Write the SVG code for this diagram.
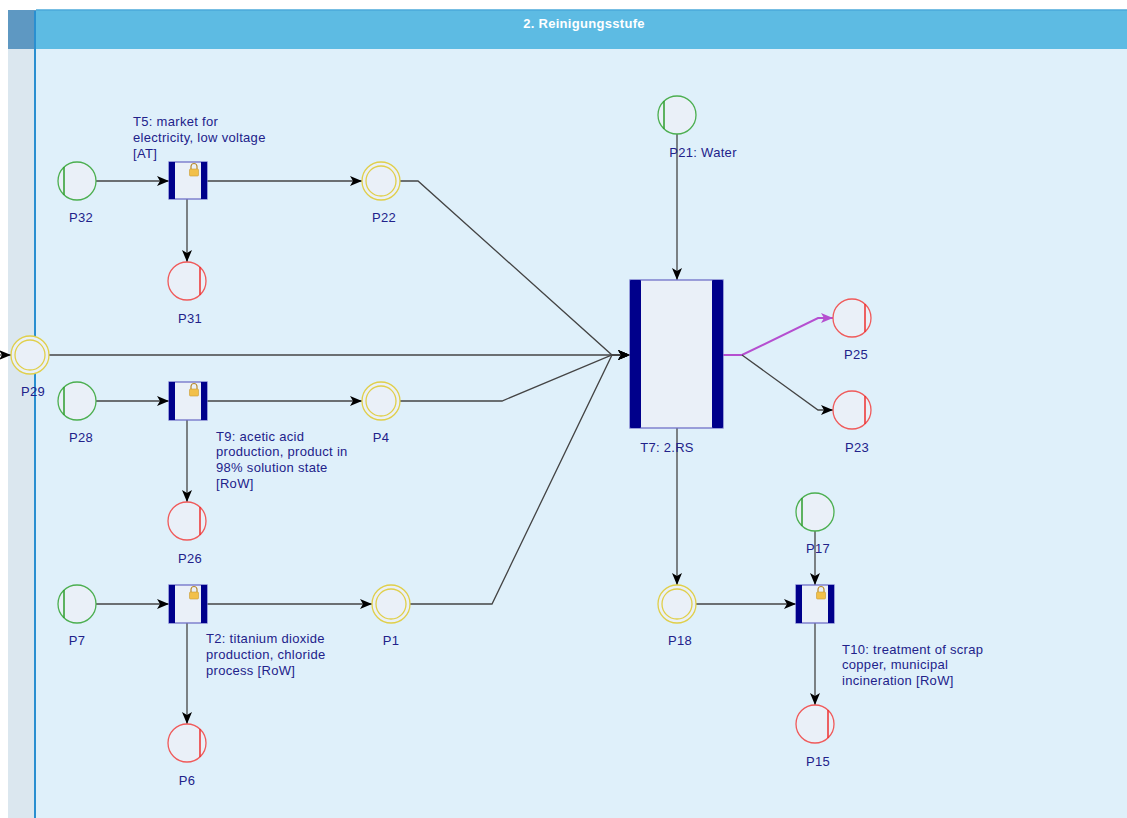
<svg xmlns="http://www.w3.org/2000/svg" width="1127" height="818" viewBox="0 0 1127 818">
  <defs>
    <marker id="arr" viewBox="0 0 12 10" refX="12" refY="5" markerWidth="12" markerHeight="10" markerUnits="userSpaceOnUse" orient="auto">
      <path d="M0,0 L12,5 L0,10 L3,5 Z" fill="#000"/>
    </marker>
    <marker id="arrP" viewBox="0 0 12 10" refX="12" refY="5" markerWidth="12" markerHeight="10" markerUnits="userSpaceOnUse" orient="auto">
      <path d="M0,0 L12,5 L0,10 L3,5 Z" fill="#b54fd0"/>
    </marker>
    <g id="lock">
      <path d="M-3,-1 v-2.5 a3,3 0 0 1 6,0 v2.5" fill="none" stroke="#b88a2a" stroke-width="1.2"/>
      <rect x="-4.5" y="-1" width="9" height="7" rx="1" fill="#f2c04a" stroke="#c99a30" stroke-width="0.6"/>
    </g>
  </defs>
  <style>
    .lbl { font-family: "Liberation Sans", Arial, sans-serif; font-size: 13px; letter-spacing: 0.3px; fill: #22228a; }
    .ttl { font-family: "Liberation Sans", Arial, sans-serif; font-size: 13px; letter-spacing: 0.3px; font-weight: bold; fill: #fff; }
    .pl { fill: #eaf0f8; stroke-width: 1.3; }
    .src { stroke: #4caf50; }
    .snk { stroke: #f05a5a; }
    .mid { stroke: #e0cf4a; }
    .bar-src { stroke: #2e9e2e; stroke-width: 1.5; }
    .bar-snk { stroke: #ee3030; stroke-width: 1.5; }
    .tr { fill: #eaf0f8; stroke: #7070c8; stroke-width: 1.3; }
    .tb { fill: #00008b; }
    .ed { fill: none; stroke: #444; stroke-width: 1.3; marker-end: url(#arr); }
    .edp { fill: none; stroke: #b54fd0; stroke-width: 2; marker-end: url(#arrP); }
  </style>

  <!-- lane background -->
  <rect x="0" y="0" width="1127" height="818" fill="#ffffff"/>
  <rect x="8" y="49" width="28" height="769" fill="#dbe7ef"/>
  <rect x="36" y="49" width="1091" height="769" fill="#dff0fa"/>
  <rect x="8" y="10" width="28" height="39" fill="#5e98c2"/>
  <rect x="36" y="10" width="1091" height="39" fill="#5dbbe3"/>
  <line x1="36" y1="10" x2="1127" y2="10" stroke="#4aa8da" stroke-width="1.5"/>
  <line x1="35" y1="11" x2="35" y2="818" stroke="#2a8fd0" stroke-width="2"/>
  <text class="ttl" x="584" y="28" text-anchor="middle">2. Reinigungsstufe</text>

  <!-- connectors -->
  <g id="connectors">
    <path class="ed" d="M96,181 H169"/>
    <path class="ed" d="M207,181 H362"/>
    <path class="ed" d="M187,198 V262"/>
    <path class="ed" d="M400,181 H418 L612,355 H630"/>
    <path class="ed" d="M49,355 H630"/>
    <path class="ed" d="M0,355 H11"/>
    <path class="ed" d="M96,401 H169"/>
    <path class="ed" d="M207,401 H362"/>
    <path class="ed" d="M187,420 V502"/>
    <path class="ed" d="M400,401 H502 L612,355 H630"/>
    <path class="ed" d="M96,604 H169"/>
    <path class="ed" d="M207,604 H372"/>
    <path class="ed" d="M187,623 V724"/>
    <path class="ed" d="M410,604 H492 L612,355 H630"/>
    <path class="ed" d="M677,134 V280"/>
    <path class="edp" d="M723,355 H742 L818,318 H833"/>
    <path class="ed" d="M742,355 L818,410 H833"/>
    <path class="ed" d="M677,428 V585"/>
    <path class="ed" d="M696,604 H796"/>
    <path class="ed" d="M815,531 V585"/>
    <path class="ed" d="M815,623 V705"/>
  </g>

  <!-- source places -->
  <g id="P32"><circle class="pl src" cx="77" cy="181" r="19"/><line class="bar-src" x1="64" y1="167" x2="64" y2="195"/><text class="lbl" x="81" y="222" text-anchor="middle">P32</text></g>
  <g id="P28"><circle class="pl src" cx="77" cy="401" r="19"/><line class="bar-src" x1="64" y1="387" x2="64" y2="415"/><text class="lbl" x="81" y="442" text-anchor="middle">P28</text></g>
  <g id="P7"><circle class="pl src" cx="77" cy="604" r="19"/><line class="bar-src" x1="64" y1="590" x2="64" y2="618"/><text class="lbl" x="77" y="645" text-anchor="middle">P7</text></g>
  <g id="P21"><circle class="pl src" cx="677" cy="115" r="19"/><line class="bar-src" x1="664" y1="101" x2="664" y2="129"/><text class="lbl" x="703" y="157" text-anchor="middle">P21: Water</text></g>
  <g id="P17"><circle class="pl src" cx="815" cy="512" r="19"/><line class="bar-src" x1="802" y1="498" x2="802" y2="526"/><text class="lbl" x="818" y="553" text-anchor="middle">P17</text></g>

  <!-- intermediate places -->
  <g id="P22"><circle class="pl mid" cx="381" cy="181" r="19"/><circle cx="381" cy="181" r="15" fill="none" stroke="#e0cf4a" stroke-width="1.3"/><text class="lbl" x="384" y="222" text-anchor="middle">P22</text></g>
  <g id="P29"><circle class="pl mid" cx="30" cy="355" r="19"/><circle cx="30" cy="355" r="15" fill="none" stroke="#e0cf4a" stroke-width="1.3"/><text class="lbl" x="33" y="396" text-anchor="middle">P29</text></g>
  <g id="P4"><circle class="pl mid" cx="381" cy="401" r="19"/><circle cx="381" cy="401" r="15" fill="none" stroke="#e0cf4a" stroke-width="1.3"/><text class="lbl" x="381" y="442" text-anchor="middle">P4</text></g>
  <g id="P1"><circle class="pl mid" cx="391" cy="604" r="19"/><circle cx="391" cy="604" r="15" fill="none" stroke="#e0cf4a" stroke-width="1.3"/><text class="lbl" x="391" y="645" text-anchor="middle">P1</text></g>
  <g id="P18"><circle class="pl mid" cx="677" cy="604" r="19"/><circle cx="677" cy="604" r="15" fill="none" stroke="#e0cf4a" stroke-width="1.3"/><text class="lbl" x="680" y="645" text-anchor="middle">P18</text></g>

  <!-- sink places -->
  <g id="P31"><circle class="pl snk" cx="187" cy="281" r="19"/><line class="bar-snk" x1="200" y1="267" x2="200" y2="295"/><text class="lbl" x="190" y="323" text-anchor="middle">P31</text></g>
  <g id="P26"><circle class="pl snk" cx="187" cy="521" r="19"/><line class="bar-snk" x1="200" y1="507" x2="200" y2="535"/><text class="lbl" x="190" y="563" text-anchor="middle">P26</text></g>
  <g id="P6"><circle class="pl snk" cx="187" cy="743" r="19"/><line class="bar-snk" x1="200" y1="729" x2="200" y2="757"/><text class="lbl" x="187" y="785" text-anchor="middle">P6</text></g>
  <g id="P25"><circle class="pl snk" cx="852" cy="318" r="19"/><line class="bar-snk" x1="865" y1="304" x2="865" y2="332"/><text class="lbl" x="856" y="359" text-anchor="middle">P25</text></g>
  <g id="P23"><circle class="pl snk" cx="852" cy="410" r="19"/><line class="bar-snk" x1="865" y1="396" x2="865" y2="424"/><text class="lbl" x="857" y="452" text-anchor="middle">P23</text></g>
  <g id="P15"><circle class="pl snk" cx="815" cy="724" r="19"/><line class="bar-snk" x1="828" y1="710" x2="828" y2="738"/><text class="lbl" x="818" y="766" text-anchor="middle">P15</text></g>

  <!-- transitions -->
  <g id="T5">
    <rect class="tr" x="169" y="162" width="38" height="37"/>
    <rect class="tb" x="169" y="162" width="6" height="37"/><rect class="tb" x="201" y="162" width="6" height="37"/>
    <use href="#lock" x="194" y="170"/>
    <text class="lbl" x="133" y="126">T5: market for</text>
    <text class="lbl" x="133" y="142">electricity, low voltage</text>
    <text class="lbl" x="133" y="158">[AT]</text>
  </g>
  <g id="T9">
    <rect class="tr" x="169" y="382" width="38" height="38"/>
    <rect class="tb" x="169" y="382" width="6" height="38"/><rect class="tb" x="201" y="382" width="6" height="38"/>
    <use href="#lock" x="194" y="390"/>
    <text class="lbl" x="216" y="441">T9: acetic acid</text>
    <text class="lbl" x="216" y="456">production, product in</text>
    <text class="lbl" x="216" y="472">98% solution state</text>
    <text class="lbl" x="216" y="488">[RoW]</text>
  </g>
  <g id="T2">
    <rect class="tr" x="169" y="585" width="38" height="38"/>
    <rect class="tb" x="169" y="585" width="6" height="38"/><rect class="tb" x="201" y="585" width="6" height="38"/>
    <use href="#lock" x="194" y="593"/>
    <text class="lbl" x="206" y="643">T2: titanium dioxide</text>
    <text class="lbl" x="206" y="659">production, chloride</text>
    <text class="lbl" x="206" y="675">process [RoW]</text>
  </g>
  <g id="T7">
    <rect class="tr" x="630" y="280" width="93" height="148"/>
    <rect class="tb" x="630" y="280" width="11" height="148" rx="1"/><rect class="tb" x="712" y="280" width="11" height="148" rx="1"/>
    <text class="lbl" x="667" y="452" text-anchor="middle">T7: 2.RS</text>
  </g>
  <g id="T10">
    <rect class="tr" x="796" y="585" width="38" height="38"/>
    <rect class="tb" x="796" y="585" width="6" height="38"/><rect class="tb" x="828" y="585" width="6" height="38"/>
    <use href="#lock" x="821" y="593"/>
    <text class="lbl" x="842" y="654">T10: treatment of scrap</text>
    <text class="lbl" x="842" y="669">copper, municipal</text>
    <text class="lbl" x="842" y="685">incineration [RoW]</text>
  </g>
</svg>
